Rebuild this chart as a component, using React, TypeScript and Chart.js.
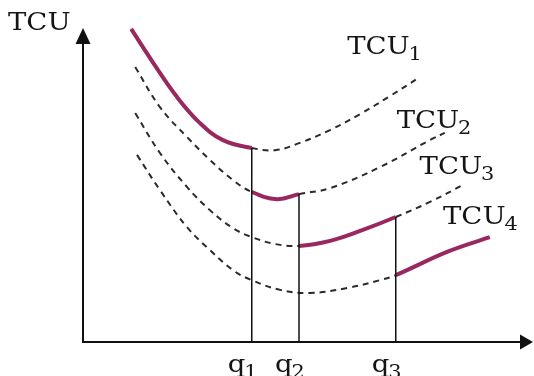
import { useEffect, useRef } from "react";
import { Chart, registerables } from "chart.js";

Chart.register(...registerables);

// Output levels marked on the quantity axis
const qMarks = [37.5, 48, 69.5];
const qSubs = ["1", "2", "3"];

// Unit total cost curves (quantity / cost pairs)
const tcu1Q = [10.7, 15.6, 20.9, 26.0, 31.1, 37.5, 42.7, 48.2, 54.9, 61.6, 68.2, 74.9];
const tcu1Cost = [99.7, 88.9, 78.0, 69.7, 64.3, 61.8, 61.1, 63.4, 67.5, 72.6, 78.3, 84.4];

const tcu2Q = [11.6, 17.1, 23.1, 28.2, 33.3, 37.5, 43.1, 48, 54.9, 66.0, 77.1, 80.4];
const tcu2Cost = [87.6, 74.8, 65.3, 58.0, 51.6, 47.8, 45.5, 47.1, 49.0, 55.7, 64.3, 66.6];

const tcu3Q = [11.6, 17.1, 23.1, 28.2, 33.3, 37.5, 42.7, 48, 54.9, 62.2, 69.5, 77.1, 84.4];
const tcu3Cost = [72.9, 60.2, 49.4, 42.0, 36.3, 33.4, 31.2, 30.6, 32.2, 35.7, 39.8, 44.6, 50.0];

const tcu4Q = [12.0, 17.1, 23.1, 28.2, 33.3, 37.5, 43.8, 50.4, 58.7, 66.0, 69.5, 80.9, 90.4];
const tcu4Cost = [59.6, 48.4, 36.6, 29.3, 22.9, 19.7, 16.6, 15.6, 17.2, 19.7, 21.3, 28.7, 33.4];

const curveSubs = ["1", "2", "3", "4"];

const PURPLE = "#9a2860";
const DASH = "#2a2a2a";
const FONT = "'DejaVu Serif', serif";

type Curve = { q: number[]; cost: number[]; from: number; to: number };

const curves: Curve[] = [
  { q: tcu1Q, cost: tcu1Cost, from: tcu1Q[0], to: qMarks[0] },
  { q: tcu2Q, cost: tcu2Cost, from: qMarks[0], to: qMarks[1] },
  { q: tcu3Q, cost: tcu3Cost, from: qMarks[1], to: qMarks[2] },
  { q: tcu4Q, cost: tcu4Cost, from: qMarks[2], to: tcu4Q[tcu4Q.length - 1] },
];

const costAt = (c: Curve, q: number) => c.cost[c.q.indexOf(q)];

// Label anchors in data units: [left, baseline]
const curveLabelAt: [number, number][] = [
  [58.7, 91.7],
  [69.7, 68.2],
  [74.8, 53.5],
  [80.0, 37.6],
];

function drawLabel(
  ctx: CanvasRenderingContext2D,
  main: string,
  sub: string,
  x: number,
  y: number,
) {
  ctx.save();
  ctx.translate(x, y);
  ctx.scale(1.1, 1);
  ctx.fillStyle = "#151515";
  ctx.textBaseline = "alphabetic";
  ctx.textAlign = "left";
  ctx.font = `25px ${FONT}`;
  ctx.fillText(main, 0, 0);
  const w = ctx.measureText(main).width;
  if (sub) {
    ctx.font = `19px ${FONT}`;
    ctx.fillText(sub, w - 1, 6);
  }
  ctx.restore();
}

const decorPlugin = {
  id: "decor",
  afterDatasetsDraw(chart: Chart) {
    const { ctx } = chart;
    const xs = chart.scales.x;
    const ys = chart.scales.y;
    const x0 = xs.getPixelForValue(0);
    const y0 = ys.getPixelForValue(0);
    const xEnd = xs.getPixelForValue(100);
    const yEnd = ys.getPixelForValue(100);

    ctx.save();
    ctx.strokeStyle = "#111";
    ctx.fillStyle = "#111";
    ctx.lineWidth = 2;
    ctx.beginPath();
    ctx.moveTo(x0, yEnd + 10);
    ctx.lineTo(x0, y0);
    ctx.lineTo(xEnd - 8, y0);
    ctx.stroke();

    // arrow heads
    ctx.beginPath();
    ctx.moveTo(x0, yEnd);
    ctx.lineTo(x0 - 7.5, yEnd + 16);
    ctx.lineTo(x0 + 7.5, yEnd + 16);
    ctx.closePath();
    ctx.fill();
    ctx.beginPath();
    ctx.moveTo(xEnd, y0);
    ctx.lineTo(xEnd - 13, y0 - 7.5);
    ctx.lineTo(xEnd - 13, y0 + 7.5);
    ctx.closePath();
    ctx.fill();
    ctx.restore();

    drawLabel(ctx, "TCU", "", 8, 30);

    curveLabelAt.forEach(([lx, ly], i) => {
      drawLabel(ctx, "TCU", curveSubs[i], xs.getPixelForValue(lx), ys.getPixelForValue(ly));
    });

    qMarks.forEach((q, i) => {
      const px = xs.getPixelForValue(q);
      drawLabel(ctx, "q", qSubs[i], px - 24, y0 + 30);
    });
  },
};

export default function App() {
  const ref = useRef<HTMLCanvasElement>(null);

  useEffect(() => {
    if (!ref.current) return;

    const curveSets = curves.map((c) => {
      const solid = (ctx: any) =>
        c.q[ctx.p0DataIndex] >= c.from - 1e-6 && c.q[ctx.p1DataIndex] <= c.to + 1e-6;
      return {
        data: c.q.map((q, i) => ({ x: q, y: c.cost[i] })),
        borderColor: DASH,
        borderWidth: 2,
        borderDash: [6, 5],
        pointRadius: 0,
        tension: 0.4,
        clip: false as const,
        segment: {
          borderColor: (ctx: any) => (solid(ctx) ? PURPLE : undefined),
          borderWidth: (ctx: any) => (solid(ctx) ? 4 : undefined),
          borderDash: (ctx: any) => (solid(ctx) ? [] : undefined),
        },
      };
    });

    const dropSets = qMarks.map((q, i) => ({
      data: [
        { x: q, y: 0 },
        { x: q, y: costAt(curves[i], q) },
      ],
      borderColor: "#111",
      borderWidth: 1.5,
      pointRadius: 0,
      clip: false as const,
    }));

    const chart = new Chart(ref.current, {
      type: "line",
      data: { datasets: [...dropSets, ...curveSets] as any },
      options: {
        animation: false,
        responsive: false,
        maintainAspectRatio: false,
        layout: { padding: { left: 83, right: 1, top: 28, bottom: 34 } },
        scales: {
          x: { type: "linear", min: 0, max: 100, display: false },
          y: { type: "linear", min: 0, max: 100, display: false },
        },
        plugins: { legend: { display: false }, tooltip: { enabled: false } },
      },
      plugins: [decorPlugin],
    });

    return () => chart.destroy();
  }, []);

  return (
    <div style={{ position: "fixed", left: 0, top: 0, width: 534, height: 376, background: "#fff" }}>
      <canvas ref={ref} width={534} height={376} />
    </div>
  );
}
